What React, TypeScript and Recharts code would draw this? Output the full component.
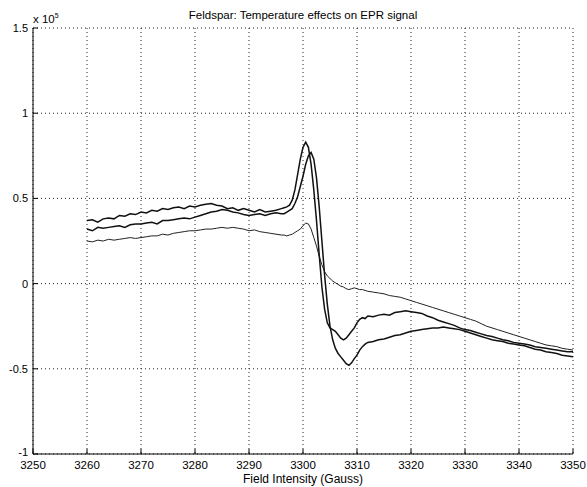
import { LineChart, Line, XAxis, YAxis, CartesianGrid } from "recharts";

// field positions (Gauss); finer steps around the resonance
const fieldGauss = [
  3260, 3261, 3262, 3263, 3264, 3265, 3266, 3267, 3268, 3269,
  3270, 3271, 3272, 3273, 3274, 3275, 3276, 3277, 3278, 3279,
  3280, 3281, 3282, 3283, 3284, 3285, 3286, 3287, 3288, 3289,
  3290, 3291, 3292, 3293, 3294, 3295, 3296,
  3296.5, 3297, 3297.5, 3298, 3298.5, 3299, 3299.5, 3300, 3300.5, 3301,
  3301.5, 3302, 3302.5, 3303, 3303.5, 3304, 3304.5, 3305, 3305.5, 3306,
  3306.5, 3307, 3307.5, 3308, 3308.5, 3309, 3309.5, 3310, 3310.5, 3311,
  3311.5, 3312,
  3313, 3314, 3315, 3316, 3317, 3318, 3319, 3320, 3321, 3322,
  3323, 3324, 3325, 3326, 3327, 3328, 3329, 3330, 3331, 3332,
  3333, 3334, 3335, 3336, 3337, 3338, 3339, 3340, 3341, 3342,
  3343, 3344, 3345, 3346, 3347, 3348, 3349, 3350,
];

// EPR signal, units of 1e5
const signalA = [
  0.37, 0.375, 0.36, 0.38, 0.385, 0.38, 0.4, 0.395, 0.41, 0.405,
  0.42, 0.415, 0.43, 0.425, 0.44, 0.435, 0.445, 0.45, 0.44, 0.455,
  0.45, 0.46, 0.465, 0.47, 0.46, 0.455, 0.44, 0.445, 0.43, 0.44,
  0.43, 0.42, 0.435, 0.42, 0.425, 0.43, 0.44,
  0.445, 0.45, 0.46, 0.49, 0.55, 0.64, 0.73, 0.8, 0.83, 0.8,
  0.7, 0.55, 0.37, 0.17, -0.02, -0.15, -0.23, -0.26, -0.27, -0.28,
  -0.3, -0.32, -0.33, -0.32, -0.3, -0.28, -0.26, -0.23, -0.21, -0.2,
  -0.205, -0.19,
  -0.195, -0.185, -0.18, -0.185, -0.17, -0.165, -0.16, -0.165, -0.17, -0.175,
  -0.19, -0.2, -0.215, -0.225, -0.235, -0.245, -0.26, -0.27, -0.275, -0.285,
  -0.295, -0.305, -0.31, -0.32, -0.33, -0.335, -0.345, -0.35, -0.355, -0.36,
  -0.37, -0.375, -0.38, -0.385, -0.39, -0.395, -0.4, -0.4,
];

const signalB = [
  0.32, 0.31, 0.33, 0.325, 0.33, 0.335, 0.34, 0.33, 0.345, 0.35,
  0.35, 0.355, 0.36, 0.35, 0.37, 0.37, 0.375, 0.38, 0.385, 0.38,
  0.39, 0.4, 0.41, 0.42, 0.425, 0.435, 0.43, 0.42, 0.415, 0.405,
  0.4, 0.405, 0.41, 0.4, 0.41, 0.415, 0.41,
  0.41, 0.42, 0.43, 0.44, 0.47, 0.51, 0.57, 0.63, 0.7, 0.75,
  0.77, 0.73, 0.62, 0.45, 0.25, 0.05, -0.12, -0.25, -0.33, -0.38,
  -0.41, -0.43, -0.45, -0.47, -0.48, -0.465, -0.44, -0.42, -0.39, -0.37,
  -0.355, -0.345,
  -0.34, -0.33, -0.325, -0.315, -0.305, -0.3, -0.29, -0.28, -0.275, -0.27,
  -0.265, -0.26, -0.26, -0.255, -0.26, -0.265, -0.27, -0.28, -0.29, -0.3,
  -0.31, -0.32, -0.33, -0.335, -0.34, -0.35, -0.355, -0.36, -0.365, -0.375,
  -0.385, -0.39, -0.4, -0.405, -0.41, -0.42, -0.425, -0.43,
];

const signalC = [
  0.25, 0.245, 0.255, 0.25, 0.26, 0.255, 0.26, 0.265, 0.27, 0.265,
  0.27, 0.275, 0.28, 0.28, 0.29, 0.285, 0.295, 0.3, 0.305, 0.31,
  0.31, 0.315, 0.32, 0.32, 0.325, 0.33, 0.325, 0.33, 0.325, 0.32,
  0.31, 0.315, 0.305, 0.3, 0.295, 0.29, 0.285,
  0.285, 0.28, 0.285, 0.29, 0.3, 0.31, 0.32, 0.34, 0.355, 0.35,
  0.32, 0.27, 0.22, 0.16, 0.11, 0.07, 0.045, 0.03, 0.015, 0.005,
  -0.005, -0.015, -0.02, -0.03, -0.035, -0.03, -0.025, -0.03, -0.035, -0.035,
  -0.04, -0.045,
  -0.05, -0.055, -0.06, -0.07, -0.075, -0.08, -0.09, -0.1, -0.11, -0.12,
  -0.13, -0.14, -0.15, -0.16, -0.17, -0.18, -0.19, -0.2, -0.21, -0.22,
  -0.235, -0.25, -0.26, -0.27, -0.28, -0.29, -0.3, -0.31, -0.32, -0.33,
  -0.34, -0.35, -0.36, -0.365, -0.37, -0.38, -0.385, -0.39,
];

const xTicks = [3250, 3260, 3270, 3280, 3290, 3300, 3310, 3320, 3330, 3340, 3350];
const yTicks = [-1, -0.5, 0, 0.5, 1, 1.5];

const data = fieldGauss.map((f, i) => ({
  field: f,
  a: signalA[i],
  b: signalB[i],
  c: signalC[i],
}));

const font = "'Liberation Sans', Arial, Helvetica, sans-serif";
const tickStyle = { fontSize: 11.5, fill: "#000", fontFamily: font };

// y labels drawn by hand so the bottom one can sit a touch higher
function YTick(props: any) {
  const { x, y, payload } = props;
  const lift = payload.value === -1 ? 2 : 0;
  return (
    <text
      x={x}
      y={y + 4 - lift}
      textAnchor="end"
      fontSize={11}
      fontFamily={font}
      fill="#000"
    >
      {String(payload.value)}
    </text>
  );
}

export default function App() {
  return (
    <div
      style={{
        position: "absolute",
        left: 0,
        top: 0,
        width: 587,
        height: 487,
        background: "#fff",
        fontFamily: font,
        color: "#000",
      }}
    >
      <LineChart
        width={587}
        height={487}
        data={data}
        margin={{ top: 28, right: 14, bottom: 0, left: 0 }}
      >
        <CartesianGrid stroke="#222" strokeDasharray="1 3" />
        <XAxis
          dataKey="field"
          type="number"
          domain={[3250, 3350]}
          ticks={xTicks}
          allowDataOverflow
          height={33}
          tick={tickStyle}
          tickSize={-5}
          tickMargin={12}
          stroke="#000"
        />
        <XAxis
          xAxisId="top"
          orientation="top"
          dataKey="field"
          type="number"
          domain={[3250, 3350]}
          ticks={xTicks}
          height={0}
          tick={false}
          tickSize={-5}
          stroke="#000"
        />
        <YAxis
          type="number"
          domain={[-1, 1.5]}
          ticks={yTicks}
          allowDataOverflow
          width={33}
          tick={<YTick />}
          tickSize={-5}
          tickMargin={10}
          stroke="#000"
        />
        <YAxis
          yAxisId="right"
          orientation="right"
          type="number"
          domain={[-1, 1.5]}
          ticks={yTicks}
          width={0}
          tick={false}
          tickSize={-5}
          stroke="#000"
        />
        <Line dataKey="c" stroke="#222" strokeWidth={1} dot={false} isAnimationActive={false} />
        <Line dataKey="b" stroke="#111" strokeWidth={1.5} dot={false} isAnimationActive={false} />
        <Line dataKey="a" stroke="#111" strokeWidth={1.5} dot={false} isAnimationActive={false} />
      </LineChart>
      <div
        style={{
          position: "absolute",
          left: 0,
          width: 606,
          top: 9,
          textAlign: "center",
          fontSize: 11.5,
          lineHeight: "normal",
        }}
      >
        Feldspar: Temperature effects on EPR signal
      </div>
      <div
        style={{ position: "absolute", left: 33, top: 12, fontSize: 11.5, lineHeight: "normal" }}
      >
        x 10<sup style={{ fontSize: 7 }}>5</sup>
      </div>
      <div
        style={{
          position: "absolute",
          left: 0,
          width: 606,
          top: 472,
          textAlign: "center",
          fontSize: 12,
          lineHeight: "normal",
        }}
      >
        Field Intensity (Gauss)
      </div>
    </div>
  );
}
